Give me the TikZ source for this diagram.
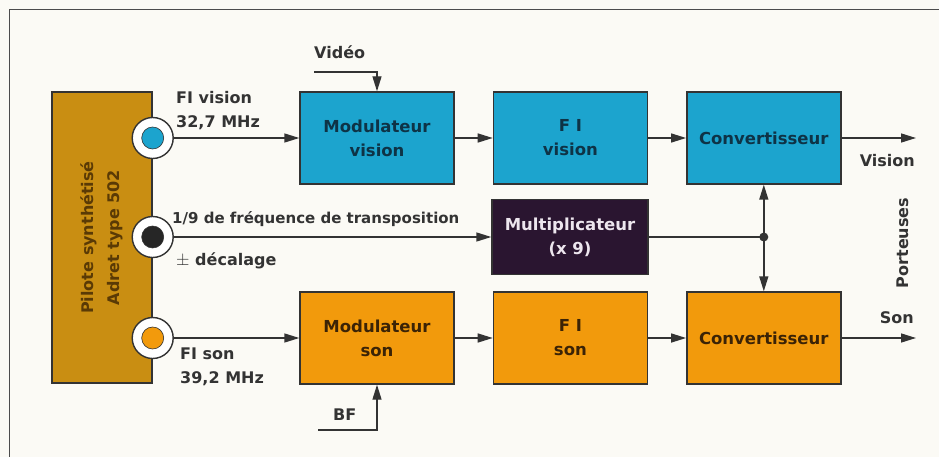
\documentclass[tikz,border=0pt]{standalone}
\usepackage{fontspec}
\setmainfont{DejaVu Sans}
\usetikzlibrary{arrows.meta,positioning}
\definecolor{vblue}{HTML}{1CA4CE}
\definecolor{sorange}{HTML}{F29A0C}
\definecolor{pgold}{HTML}{C98E12}
\definecolor{mpurple}{HTML}{2A1530}
\definecolor{ink}{HTML}{333333}
\definecolor{paper}{HTML}{FBFAF5}
\definecolor{vtext}{HTML}{0E3346}
\definecolor{stext}{HTML}{3B2306}
\definecolor{ptext}{HTML}{5A3A05}
\definecolor{mtext}{HTML}{EDE6EE}

\begin{document}
\begin{tikzpicture}[x=1pt,y=-1pt,
  box/.style={draw=ink,line width=1.4pt,minimum width=154pt,minimum height=92pt,align=center,font=\bfseries\fontsize{16.5}{24}\selectfont},
  vbox/.style={box,fill=vblue,text=vtext},
  sbox/.style={box,fill=sorange,text=stext},
  port/.style={circle,draw=ink,line width=1.4pt,fill=white,minimum size=41pt,inner sep=0pt,
    path picture={\filldraw[fill=#1,draw=ink,line width=0.6pt] (path picture bounding box.center) circle (11pt);}},
  lbl/.style={text=ink,align=left,inner sep=0pt,font=\bfseries\fontsize{16}{24}\selectfont},
  arr/.style={-{Triangle[length=15pt,width=9pt]},line width=1.4pt,draw=ink}
]
\fill[paper] (0,0) rectangle (939,457);
\useasboundingbox (0,0) rectangle (939,457);
\draw[gray!60!black,line width=1pt] (9,457) -- (9,10) -- (939,10);

% vision and son rows
\node[vbox] (modv) at (377,138) {Modulateur\\vision};
\node[vbox,right=38pt of modv] (fiv) {F I\\vision};
\node[vbox,right=38pt of fiv] (convv) {Convertisseur};
\node[sbox] (mods) at (377,338) {Modulateur\\son};
\node[sbox,right=38pt of mods] (fis) {F I\\son};
\node[sbox,right=38pt of fis] (convs) {Convertisseur};
\node[box,fill=mpurple,text=mtext,minimum width=156pt,minimum height=75pt] (mult) at (570,237) {Multiplicateur\\(x 9)};

% pilot and its outputs
\node[box,fill=pgold,text=ptext,rotate=90,minimum width=291pt,minimum height=100pt,font=\bfseries\fontsize{16}{26}\selectfont] (pilot) at (102,237.5) {Pilote synthétisé\\Adret type 502};
\node[port=vblue] (pv) at (pilot.south |- modv) {};
\node[port=black!85] (pm) at (pilot.south |- mult) {};
\node[port=sorange] (ps) at (pilot.south |- mods) {};

\coordinate (vid) at (314,72);
\coordinate (bf) at (318,430);
\coordinate (junc) at (convv |- mult);
\coordinate (outv) at (916,138);
\coordinate (outs) at (916,338);

\draw[arr] (pv) -- (modv);
\draw[arr] (modv) -- (fiv);
\draw[arr] (fiv) -- (convv);
\draw[arr] (convv) -- (outv);
\draw[arr] (ps) -- (mods);
\draw[arr] (mods) -- (fis);
\draw[arr] (fis) -- (convs);
\draw[arr] (convs) -- (outs);
\draw[arr] (pm) -- (mult);
\draw[line width=1.4pt,draw=ink] (mult) -- (junc);
\fill[ink] (junc) circle (4.5pt);
\draw[arr] (junc) -- (convv);
\draw[arr] (junc) -- (convs);
\draw[arr] (vid) -| (modv);
\draw[arr] (bf) -| (mods);

% labels
\node[lbl,anchor=north west] (fivl) at (176,91) {FI vision\\32,7 MHz};
\node[lbl,anchor=base west,font=\bfseries\fontsize{15}{24}\selectfont] (trl) at (172,223) {1/9 de fréquence de transposition};
\node[lbl,anchor=base west] (decl) at (176,265) {$\pm$ décalage};
\node[lbl,anchor=north west] (fisl) at (180,348) {FI son\\39,2 MHz};
\node[lbl,anchor=base west] (vidl) at (314,59) {Vidéo};
\node[lbl,anchor=base west] (bfl) at (333,420) {BF};
\node[lbl,anchor=base east] (visl) at (915,167) {Vision};
\node[lbl,anchor=base east] (sonl) at (914,323) {Son};
\node[lbl,rotate=90] (portl) at (903,243) {Porteuses};
\end{tikzpicture}
\end{document}
